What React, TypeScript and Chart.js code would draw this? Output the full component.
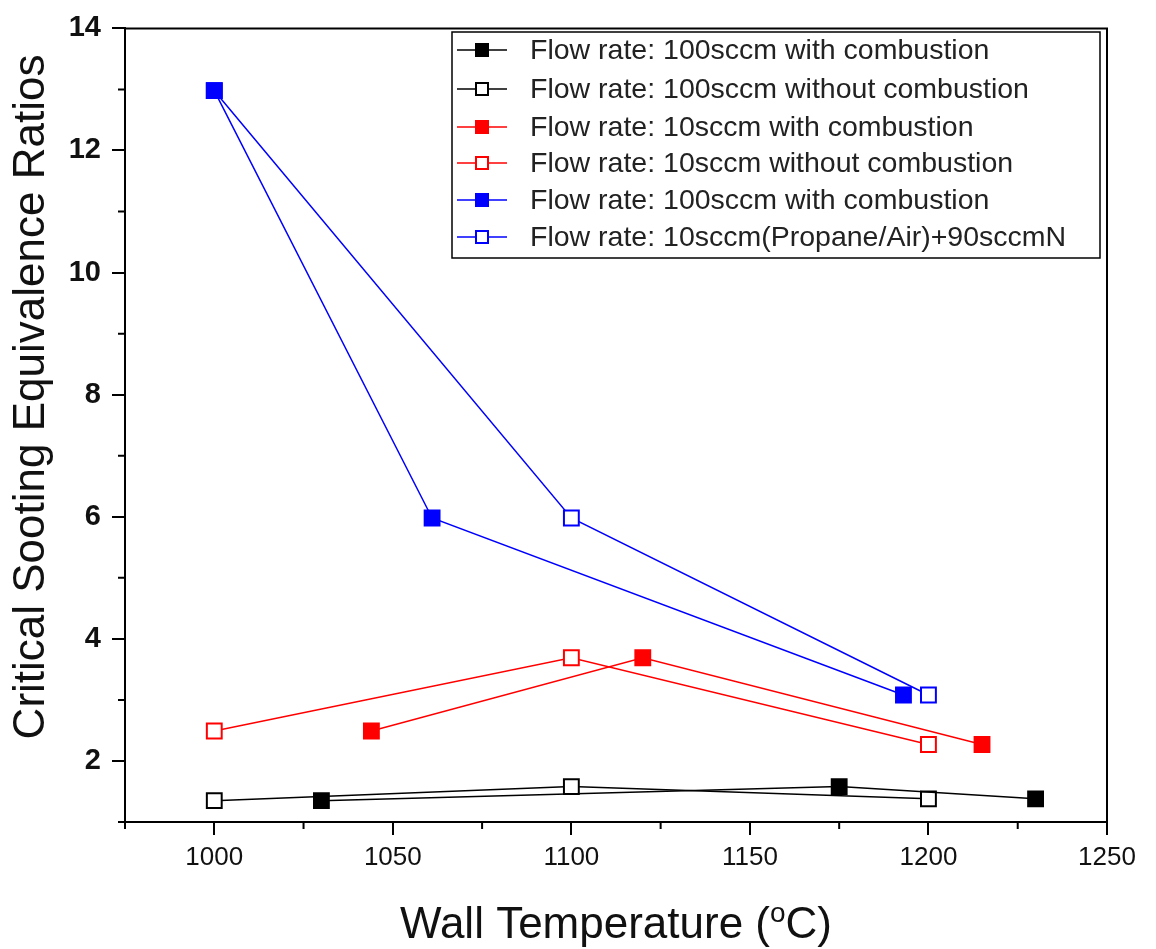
import React, { useEffect, useRef } from "react";
import { Chart, registerables } from "chart.js";

Chart.register(...registerables);

const xMajorTicks = [1000, 1050, 1100, 1150, 1200, 1250];
const xMinorTicks = [975, 1025, 1075, 1125, 1175, 1225];
const yMajorTicks = [2, 4, 6, 8, 10, 12, 14];
const yMinorTicks = [1, 3, 5, 7, 9, 11, 13];

const black100With = [
  { x: 1030, y: 1.35 },
  { x: 1175, y: 1.58 },
  { x: 1230, y: 1.38 },
];
const black100Without = [
  { x: 1000, y: 1.35 },
  { x: 1100, y: 1.58 },
  { x: 1200, y: 1.38 },
];
const red10With = [
  { x: 1044, y: 2.49 },
  { x: 1120, y: 3.69 },
  { x: 1215, y: 2.27 },
];
const red10Without = [
  { x: 1000, y: 2.49 },
  { x: 1100, y: 3.69 },
  { x: 1200, y: 2.27 },
];
const blue100With = [
  { x: 1000, y: 12.98 },
  { x: 1061, y: 5.98 },
  { x: 1193, y: 3.08 },
];
const blue10Plus90N = [
  { x: 1000, y: 12.98 },
  { x: 1100, y: 5.98 },
  { x: 1200, y: 3.08 },
];

const seriesLabels = [
  "Flow rate: 100sccm with combustion",
  "Flow rate: 100sccm without combustion",
  "Flow rate: 10sccm with combustion",
  "Flow rate: 10sccm without combustion",
  "Flow rate: 100sccm with combustion",
  "Flow rate: 10sccm(Propane/Air)+90sccmN",
];
const seriesData = [black100With, black100Without, red10With, red10Without, blue100With, blue10Plus90N];
const seriesColors = ["#000000", "#000000", "#ff0000", "#ff0000", "#0000ff", "#0000ff"];
const seriesFilled = [true, false, true, false, true, false];

const FONT = "'Liberation Sans', Arial, sans-serif";

const framePlugin = {
  id: "frame",
  afterDraw(chart: any) {
    const ctx = chart.ctx;
    const { left, right, top, bottom } = chart.chartArea;
    const xs = chart.scales.x;
    const ys = chart.scales.y;
    ctx.save();
    ctx.strokeStyle = "#000";
    ctx.lineWidth = 2;
    ctx.beginPath();
    ctx.moveTo(left, top);
    ctx.lineTo(right, top);
    ctx.lineTo(right, bottom);
    ctx.stroke();
    ctx.beginPath();
    xMinorTicks.forEach((v) => {
      const px = xs.getPixelForValue(v);
      ctx.moveTo(px, bottom);
      ctx.lineTo(px, bottom + 7);
    });
    yMinorTicks.forEach((v) => {
      const py = ys.getPixelForValue(v);
      ctx.moveTo(left, py);
      ctx.lineTo(left - 7, py);
    });
    ctx.stroke();

    ctx.fillStyle = "#111";
    ctx.textBaseline = "alphabetic";
    const big = `44px ${FONT}`;
    const small = `28px ${FONT}`;
    ctx.font = big;
    const p1 = "Wall Temperature (";
    const p3 = "C)";
    const w1 = ctx.measureText(p1).width;
    const w3 = ctx.measureText(p3).width;
    ctx.font = small;
    const w2 = ctx.measureText("o").width;
    const total = w1 + w2 + w3;
    const cx = (left + right) / 2;
    const x0 = cx - total / 2;
    const base = 938;
    ctx.textAlign = "left";
    ctx.font = big;
    ctx.fillText(p1, x0, base);
    ctx.font = small;
    ctx.fillText("o", x0 + w1, base - 16);
    ctx.font = big;
    ctx.fillText(p3, x0 + w1 + w2, base);

    ctx.save();
    ctx.translate(32, 397);
    ctx.rotate(-Math.PI / 2);
    ctx.textAlign = "center";
    ctx.textBaseline = "middle";
    ctx.font = big;
    ctx.fillText("Critical Sooting Equivalence Ratios", 0, 0);
    ctx.restore();

    const lx = 452, ly = 32, lw = 648, lh = 226;
    ctx.fillStyle = "#fff";
    ctx.fillRect(lx, ly, lw, lh);
    ctx.strokeStyle = "#000";
    ctx.lineWidth = 1.5;
    ctx.strokeRect(lx, ly, lw, lh);
    ctx.textAlign = "left";
    ctx.textBaseline = "middle";
    ctx.font = `28.5px ${FONT}`;
    const rowY = [50, 89, 127, 163, 200, 237];
    seriesLabels.forEach((lab, i) => {
      const yy = rowY[i];
      const c = seriesColors[i];
      ctx.strokeStyle = c;
      ctx.lineWidth = 1.5;
      ctx.beginPath();
      ctx.moveTo(457, yy);
      ctx.lineTo(507, yy);
      ctx.stroke();
      const s = 14;
      if (seriesFilled[i]) {
        ctx.fillStyle = c;
        ctx.fillRect(482 - s / 2, yy - s / 2, s, s);
      } else {
        ctx.fillStyle = "#fff";
        ctx.fillRect(482 - s / 2, yy - s / 2, s, s);
        ctx.lineWidth = 2;
        ctx.strokeRect(482 - s / 2 + 1, yy - s / 2 + 1, s - 2, s - 2);
      }
      ctx.fillStyle = "#222";
      ctx.fillText(lab, 530, yy + 1);
    });
    ctx.restore();
  },
};

export default function App() {
  const ref = useRef<HTMLCanvasElement | null>(null);
  useEffect(() => {
    if (!ref.current) return;
    const datasets = seriesData.map((d, i) => ({
      label: seriesLabels[i],
      data: d,
      borderColor: seriesColors[i],
      backgroundColor: seriesFilled[i] ? seriesColors[i] : "#ffffff",
      pointBackgroundColor: seriesFilled[i] ? seriesColors[i] : "#ffffff",
      pointBorderColor: seriesColors[i],
      pointBorderWidth: 2,
      borderWidth: 1.5,
      pointStyle: "rect" as const,
      pointRadius: 10.5,
      showLine: true,
      tension: 0,
    }));
    const chart = new Chart(ref.current, {
      type: "scatter",
      data: { datasets },
      plugins: [framePlugin],
      options: {
        animation: false,
        responsive: false,
        maintainAspectRatio: false,
        layout: { padding: { left: 0, right: 49, top: 27, bottom: 0 } },
        plugins: { legend: { display: false }, tooltip: { enabled: false } },
        scales: {
          x: {
            type: "linear",
            min: 975,
            max: 1250,
            afterBuildTicks: (axis: any) => {
              axis.ticks = xMajorTicks.map((v) => ({ value: v }));
            },
            afterFit: (axis: any) => {
              axis.height = 127;
            },
            ticks: {
              color: "#111",
              font: { family: FONT, size: 26 },
              padding: 7,
              maxRotation: 0,
              autoSkip: false,
              callback: (v: any) => String(v),
            },
            grid: {
              display: true,
              drawOnChartArea: false,
              drawTicks: true,
              tickLength: 13,
              color: "#000",
              lineWidth: 2,
            },
            border: { display: true, color: "#000", width: 2 },
          },
          y: {
            type: "linear",
            min: 1,
            max: 14,
            afterBuildTicks: (axis: any) => {
              axis.ticks = yMajorTicks.map((v) => ({ value: v }));
            },
            afterFit: (axis: any) => {
              axis.width = 125;
            },
            ticks: {
              color: "#111",
              font: { family: FONT, size: 29, weight: "bold" },
              padding: 11,
              autoSkip: false,
              callback: (v: any) => String(v),
            },
            grid: {
              display: true,
              drawOnChartArea: false,
              drawTicks: true,
              tickLength: 13,
              color: "#000",
              lineWidth: 2,
            },
            border: { display: true, color: "#000", width: 2 },
          },
        },
      },
    });
    return () => chart.destroy();
  }, []);
  return (
    <div style={{ position: "absolute", left: 0, top: 0, width: 1156, height: 949, background: "#fff" }}>
      <canvas ref={ref} width={1156} height={949} />
    </div>
  );
}
